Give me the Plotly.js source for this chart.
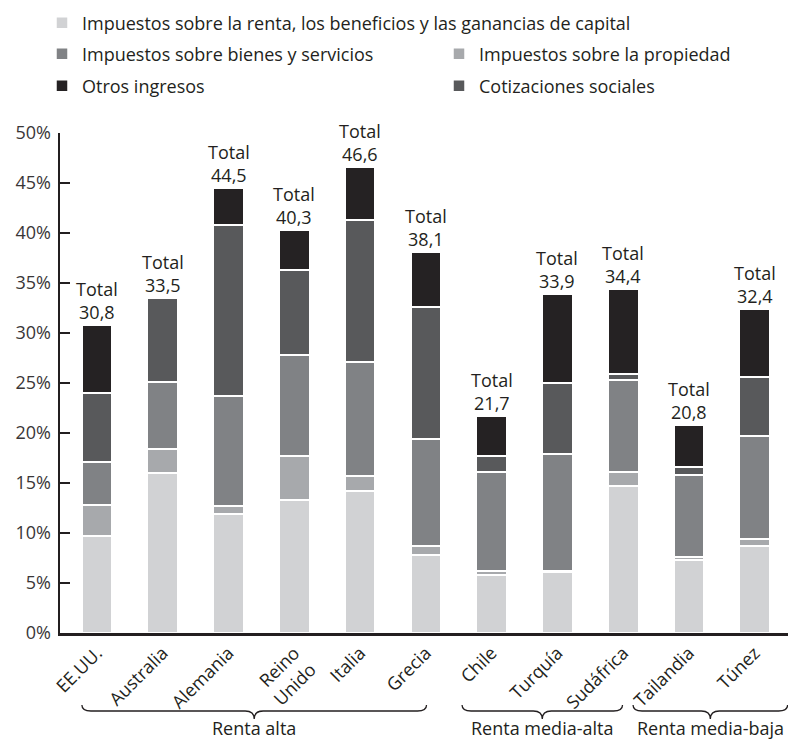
<!DOCTYPE html>
<html>
<head>
<meta charset="utf-8">
<script src="https://cdn.plot.ly/plotly-3.0.1.min.js"></script>
<style>
  html, body { margin: 0; padding: 0; background: #ffffff; }
  #chart { width: 788px; height: 739px; }
</style>
</head>
<body>
<div id="chart"></div>
<script>
// Tax revenue as a share of GDP (%), by country and type of revenue
const countries = ['EE.UU.', 'Australia', 'Alemania', 'Reino<br>Unido', 'Italia', 'Grecia',
                   'Chile', 'Turquía', 'Sudáfrica', 'Tailandia', 'Túnez'];
const incomeTax     = [9.7, 16.0, 11.9, 13.3, 14.2, 7.8, 5.8, 6.1, 14.7, 7.3, 8.7];
const propertyTax   = [3.1, 2.4, 0.8, 4.4, 1.5, 0.9, 0.4, 0.1, 1.4, 0.3, 0.7];
const goodsTax      = [4.3, 6.7, 11.0, 10.1, 11.4, 10.7, 9.9, 11.7, 9.2, 8.2, 10.3];
const socialContrib = [6.9, 8.4, 17.1, 8.5, 14.2, 13.2, 1.6, 7.1, 0.6, 0.8, 5.9];
const otherRevenue  = [6.8, 0.0, 3.7, 4.0, 5.3, 5.5, 4.0, 8.9, 8.5, 4.2, 6.8];
const groupNames = ['Renta alta', 'Renta media-alta', 'Renta media-baja'];

const seriesNames = [
  'Impuestos sobre la renta, los beneficios y las ganancias de capital',
  'Impuestos sobre la propiedad',
  'Impuestos sobre bienes y servicios',
  'Cotizaciones sociales',
  'Otros ingresos'
];
const seriesValues = [incomeTax, propertyTax, goodsTax, socialContrib, otherRevenue];
const seriesColors = ['#d1d2d4', '#a7a9ac', '#808285', '#58595b', '#252223'];
const legendIds = ['legend', 'legend3', 'legend2', 'legend5', 'legend4'];

const FONT = '"Open Sans", Lato, sans-serif';
const INK = '#231f20';

const traces = seriesNames.map((name, i) => ({
  type: 'bar',
  name: name,
  x: countries,
  y: seriesValues[i],
  width: 0.46,
  marker: { color: seriesColors[i], line: { color: '#ffffff', width: 1.5 } },
  legend: legendIds[i],
  hoverinfo: 'x+y+name'
}));

// Totals written above each bar
const totals = countries.map((c, k) =>
  seriesValues.reduce((s, arr) => s + arr[k], 0));
const totalNotes = countries.map((c, k) => ({
  x: c, y: totals[k], xref: 'x', yref: 'y',
  text: 'Total<br>' + totals[k].toFixed(1).replace('.', ','),
  showarrow: false, yanchor: 'bottom', yshift: -1,
  font: { family: FONT, size: 18, color: INK }
}));

// Category axis range and helpers for the group braces under the labels
const xRange = [-0.563, 10.506];
const toPaperX = v => (v - xRange[0]) / (xRange[1] - xRange[0]);
const braceSpans = [[-0.23, 5.01], [5.55, 7.99], [8.15, 10.5]];
const yTop = -0.144, yMid = -0.156, yTip = -0.172, curl = 9 / 728;

const braceShapes = braceSpans.map(([a, b]) => {
  const x0 = toPaperX(a), x1 = toPaperX(b), xm = (x0 + x1) / 2;
  const f = v => v.toFixed(5);
  const d = `M${f(x0)},${yTop} Q${f(x0)},${yMid} ${f(x0 + curl)},${yMid} ` +
            `L${f(xm - curl)},${yMid} Q${f(xm)},${yMid} ${f(xm)},${yTip} ` +
            `Q${f(xm)},${yMid} ${f(xm + curl)},${yMid} ` +
            `L${f(x1 - curl)},${yMid} Q${f(x1)},${yMid} ${f(x1)},${yTop}`;
  return { type: 'path', xref: 'paper', yref: 'paper', path: d,
           line: { color: INK, width: 1.3 } };
});
const groupNotes = braceSpans.map(([a, b], g) => ({
  x: toPaperX((a + b) / 2), y: -0.19, xref: 'paper', yref: 'paper',
  text: groupNames[g], showarrow: false, yanchor: 'middle', xanchor: 'center',
  font: { family: FONT, size: 18, color: INK }
}));

function legendAt(xPx, yPx) {
  return {
    xref: 'container', yref: 'container',
    x: xPx / 788, y: 1 - yPx / 739,
    xanchor: 'left', yanchor: 'middle',
    bgcolor: 'rgba(0,0,0,0)', borderwidth: 0,
    font: { family: FONT, size: 18, color: INK },
    itemclick: false, itemdoubleclick: false
  };
}

const layout = {
  width: 788, height: 739,
  margin: { l: 60, r: 0, t: 133, b: 106, autoexpand: false },
  paper_bgcolor: '#ffffff', plot_bgcolor: '#ffffff',
  barmode: 'stack',
  showlegend: true,
  font: { family: FONT, size: 18, color: INK },
  xaxis: {
    type: 'category',
    range: xRange,
    showline: true, linecolor: INK, linewidth: 2.5,
    ticks: '', showgrid: false, zeroline: false,
    tickangle: -45,
    tickfont: { family: FONT, size: 18, color: INK }
  },
  yaxis: {
    range: [0, 50], dtick: 5, ticksuffix: '%',
    showline: true, linecolor: INK, linewidth: 2.5,
    ticks: 'inside', ticklen: 10, tickwidth: 2.5, tickcolor: INK,
    ticklabelstandoff: 3,
    showgrid: false, zeroline: false,
    tickfont: { family: FONT, size: 18, color: '#3a3637' }
  },
  legend:  legendAt(42, 23),
  legend2: legendAt(42, 54),
  legend3: legendAt(439, 54),
  legend4: legendAt(42, 86),
  legend5: legendAt(439, 86),
  annotations: totalNotes.concat(groupNotes),
  shapes: braceShapes
};

Plotly.newPlot('chart', traces, layout, { displayModeBar: false, staticPlot: true });
</script>
</body>
</html>
